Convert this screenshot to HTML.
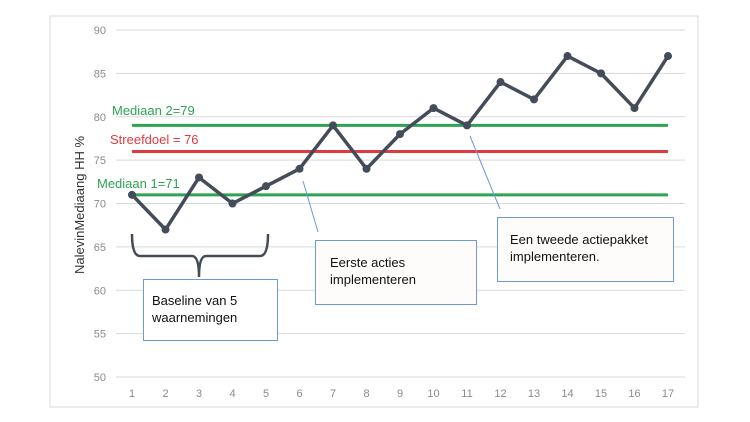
<!DOCTYPE html>
<html><head><meta charset="utf-8"><style>
body{margin:0;background:#fff;}
svg{display:block;font-family:"Liberation Sans",sans-serif;}
</style></head><body>
<svg width="750" height="422" viewBox="0 0 750 422">
<rect x="50" y="16" width="648" height="391" fill="#fff" stroke="#d9d9d9"/>
<g id="grid"></g>
<g id="yticks"></g>
<g id="xticks"></g>
<text transform="translate(84,205) rotate(-90)" text-anchor="middle" font-size="13" fill="#333">NalevinMediaang HH %</text>
<g id="refs"></g>
<g id="series"></g>
<text x="112" y="115" font-size="13" fill="#2ea352">Mediaan 2=79</text>
<text x="110" y="144" font-size="13" fill="#e03a3e">Streefdoel = 76</text>
<text x="97" y="188" font-size="13" fill="#2ea352">Mediaan 1=71</text>
<path d="M132,234 Q132,256 140,256 L192,256 Q199,256 199,277 Q199,256 206,256 L260,256 Q268,256 268,234" fill="none" stroke="#444c5a" stroke-width="2.5"/>
<line x1="303" y1="181" x2="318" y2="232" stroke="#6b9bd2" stroke-width="1"/>
<line x1="470" y1="136" x2="500" y2="209" stroke="#6b9bd2" stroke-width="1"/>
<g>
<rect x="143.5" y="279.5" width="134" height="61" fill="#fff" stroke="#6b9bd2"/>
<text x="152" y="305" font-size="13" fill="#111">Baseline van 5</text>
<text x="152" y="322" font-size="13" fill="#111">waarnemingen</text></g>
<g>
<rect x="315.5" y="240.5" width="161" height="64" fill="#fdfcfb" stroke="#6b9bd2"/>
<text x="330" y="267" font-size="13" fill="#111">Eerste acties</text>
<text x="330" y="284" font-size="13" fill="#111">implementeren</text></g>
<g>
<rect x="497.5" y="217.5" width="176" height="64" fill="#fdfcfb" stroke="#6b9bd2"/>
<text x="510" y="244" font-size="13" fill="#111">Een tweede actiepakket</text>
<text x="510" y="261" font-size="13" fill="#111">implementeren.</text></g>
</svg>
<script>
const categories=[1,2,3,4,5,6,7,8,9,10,11,12,13,14,15,16,17];
const values=[71,67,73,70,72,74,79,74,78,81,79,84,82,87,85,81,87];
const yTicks=[50,55,60,65,70,75,80,85,90];
const median1=71, median2=79, target=76;
const NS="http://www.w3.org/2000/svg";
const xs=c=>132+(c-1)*33.5;
const ys=v=>377-(v-50)*(347/40);
function mk(t,a,p){const e=document.createElementNS(NS,t);for(const k in a)e.setAttribute(k,a[k]);p.appendChild(e);return e;}
const grid=document.getElementById('grid'),yt=document.getElementById('yticks'),xt=document.getElementById('xticks');
yTicks.forEach(v=>{
const l=mk('line',{x1:116,x2:685,y1:ys(v),y2:ys(v),stroke:'#d9d9d9','stroke-width':1},grid);


const t=mk('text',{x:106,y:ys(v)+4,'text-anchor':'end','font-size':11,fill:'#8a8a8a'},yt);t.textContent=v;


});
categories.forEach(c=>{
const t=mk('text',{x:xs(c),y:397,'text-anchor':'middle','font-size':11,fill:'#8a8a8a'},xt);t.textContent=c;


});
const refs=document.getElementById('refs');
[[median2,'#2ea352','median2-line'],[target,'#e03a3e','target-line'],[median1,'#2ea352','median1-line']].forEach(r=>{
const l=mk('line',{x1:xs(1),x2:xs(17),y1:ys(r[0]),y2:ys(r[0]),stroke:r[1],'stroke-width':3},refs);


});
const s=document.getElementById('series');
const pl=mk('polyline',{points:values.map((v,i)=>xs(categories[i])+','+ys(v)).join(' '),fill:'none',stroke:'#444c5a','stroke-width':3.5,'stroke-linejoin':'round'},s);


values.forEach((v,i)=>{
const c=mk('circle',{cx:xs(categories[i]),cy:ys(v),r:4,fill:'#444c5a'},s);


});
</script>
</body></html>
